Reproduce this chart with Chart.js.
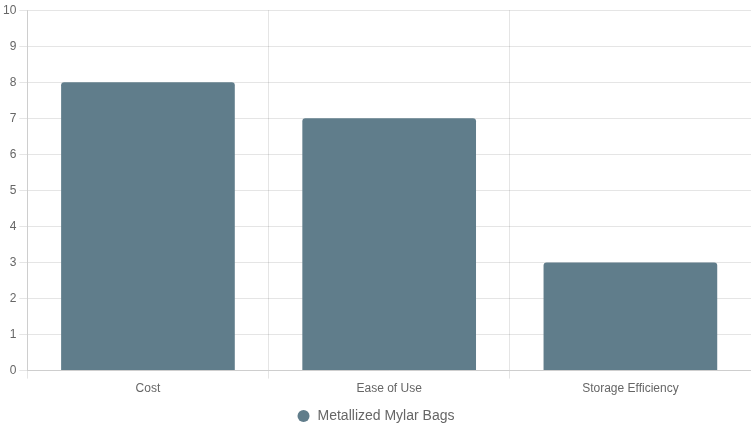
<!DOCTYPE html>
<html>
<head>
<meta charset="utf-8">
<script src="https://cdn.jsdelivr.net/npm/chart.js@4/dist/chart.umd.min.js"></script>
<style>
html, body { margin: 0; padding: 0; background: #fff; }
#wrap { width: 751px; height: 433px; }
</style>
</head>
<body>
<div id="wrap"><canvas id="chart"></canvas></div>
<script>
const categories = ["Cost", "Ease of Use", "Storage Efficiency"];
const seriesName = "Metallized Mylar Bags";
const seriesValues = [8, 7, 3];

Chart.defaults.font.family = "'Liberation Sans', Arial, sans-serif";
Chart.defaults.color = "#666";

const ctx = document.getElementById("chart").getContext("2d");
new Chart(ctx, {
    type: 'bar',
    data: {
        labels: categories,
        datasets: [{
            label: seriesName,
            data: seriesValues,
            backgroundColor: '#607D8B',
            borderRadius: 3
        }]
    },
    options: {
        responsive: true,
        maintainAspectRatio: false,
        animation: false,
        scales: {
            y: {
                beginAtZero: true,
                max: 10,
                ticks: { stepSize: 1 }
            }
        },
        plugins: {
            legend: {
                position: 'bottom',
                labels: {
                    usePointStyle: true,
                    pointStyle: 'circle',
                    boxHeight: 8.5,
                    font: { size: 14 }
                }
            }
        }
    }
});
</script>
</body>
</html>
